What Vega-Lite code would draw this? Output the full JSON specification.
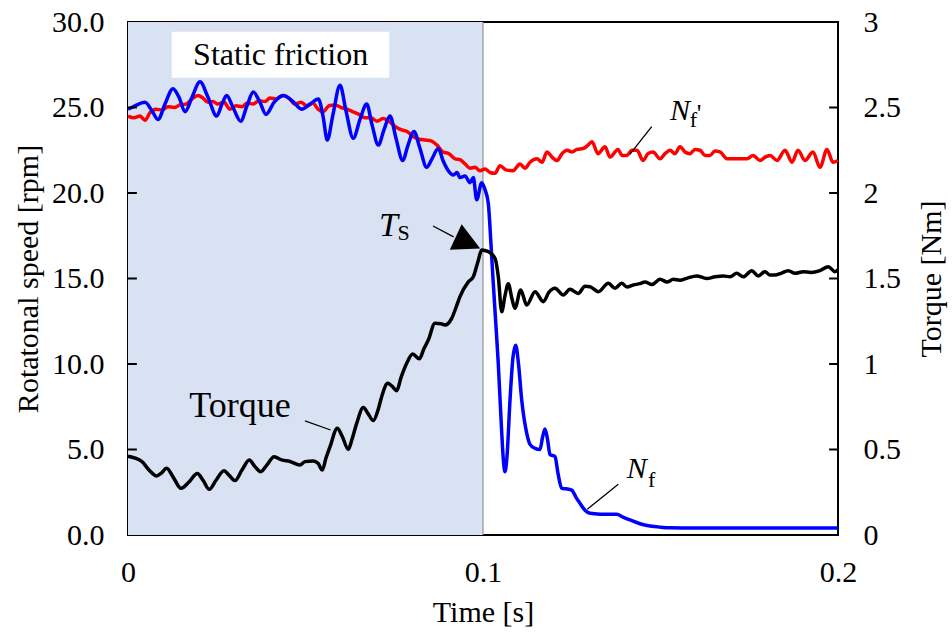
{
  "$schema": "https://vega.github.io/schema/vega-lite/v6.json",
  "width": 710,
  "height": 513,
  "autosize": {"type": "none"},
  "padding": {"left": 128, "top": 22, "right": 114, "bottom": 102},
  "background": "white",
  "config": {
    "view": {"stroke": "#000000", "strokeWidth": 2},
    "font": "Liberation Serif, Times New Roman, serif",
    "text": {"font": "Liberation Serif, Times New Roman, serif"},
    "axis": {
      "labelFont": "Liberation Serif, Times New Roman, serif",
      "titleFont": "Liberation Serif, Times New Roman, serif",
      "labelFontSize": 30,
      "titleFontSize": 30,
      "labelColor": "#000000",
      "titleColor": "#000000",
      "titleFontWeight": "normal",
      "grid": false,
      "domain": false,
      "ticks": false
    }
  },
  "resolve": {"scale": {"y": "independent"}},
  "layer": [
    {
      "layer": [
        {
          "data": {"values": [{"t0": 0, "t1": 0.1, "y0": 0, "y1": 30}]},
          "mark": {"type": "rect", "fill": "#d9e2f3"},
          "encoding": {
            "x": {"field": "t0", "type": "quantitative", "scale": {"domain": [0, 0.2], "nice": false, "zero": false}, "title": "Time [s]",
                  "axis": {"values": [0, 0.1, 0.2], "format": "~g", "labelFlush": false, "labelPadding": 22, "titlePadding": 10}},
            "x2": {"field": "t1"},
            "y": {"field": "y0", "type": "quantitative", "scale": {"domain": [0, 30], "nice": false}, "title": "Rotatonal speed [rpm]",
                  "axis": {"orient": "left", "values": [0, 5, 10, 15, 20, 25, 30], "format": ".1f", "labelPadding": 24, "titlePadding": 8}},
            "y2": {"field": "y1"}
          }
        },
        {
          "data": {"values": [{"t": 0.1, "y0": 0, "y1": 30}]},
          "mark": {"type": "rule", "color": "#808080", "strokeWidth": 1},
          "encoding": {
            "x": {"field": "t", "type": "quantitative", "title": "Time [s]",
                  "axis": {"values": [0, 0.1, 0.2], "format": "~g", "labelFlush": false, "labelPadding": 22, "titlePadding": 10}},
            "y": {"field": "y0", "type": "quantitative", "title": "Rotatonal speed [rpm]",
                  "axis": {"orient": "left", "values": [0, 5, 10, 15, 20, 25, 30], "format": ".1f", "labelPadding": 24, "titlePadding": 8}},
            "y2": {"field": "y1"}
          }
        },
        {
          "data": {"values": [{"t0": 0.0123, "t1": 0.0736, "y0": 26.74, "y1": 29.43}]},
          "mark": {"type": "rect", "fill": "#ffffff"},
          "encoding": {
            "x": {"field": "t0", "type": "quantitative", "title": "Time [s]",
                  "axis": {"values": [0, 0.1, 0.2], "format": "~g", "labelFlush": false, "labelPadding": 22, "titlePadding": 10}},
            "x2": {"field": "t1"},
            "y": {"field": "y0", "type": "quantitative", "title": "Rotatonal speed [rpm]",
                  "axis": {"orient": "left", "values": [0, 5, 10, 15, 20, 25, 30], "format": ".1f", "labelPadding": 24, "titlePadding": 8}},
            "y2": {"field": "y1"}
          }
        },
        {
          "data": {"values": [{"t": 0.0430, "v": 28.09, "label": "Static friction"}]},
          "mark": {"type": "text", "fontSize": 32, "align": "center", "baseline": "middle", "color": "#000000"},
          "encoding": {
            "x": {"field": "t", "type": "quantitative", "title": "Time [s]",
                  "axis": {"values": [0, 0.1, 0.2], "format": "~g", "labelFlush": false, "labelPadding": 22, "titlePadding": 10}},
            "y": {"field": "v", "type": "quantitative", "title": "Rotatonal speed [rpm]",
                  "axis": {"orient": "left", "values": [0, 5, 10, 15, 20, 25, 30], "format": ".1f", "labelPadding": 24, "titlePadding": 8}},
            "text": {"field": "label"}
          }
        },
        {
          "data": {"values": [
            {"t":0,"v":24.5},{"t":0.00169,"v":24.4},{"t":0.00338,"v":24.5},{"t":0.00479,"v":24.25},{"t":0.0062,"v":24.7},{"t":0.00789,"v":24.9},{"t":0.00958,"v":24.85},{"t":0.01127,"v":25.05},{"t":0.01296,"v":25.0},{"t":0.01465,"v":25.15},{"t":0.01634,"v":25.2},{"t":0.01803,"v":25.5},{"t":0.01972,"v":25.7},{"t":0.02113,"v":25.55},{"t":0.02254,"v":25.3},{"t":0.02394,"v":25.35},{"t":0.02535,"v":25.2},{"t":0.02704,"v":25.3},{"t":0.02873,"v":24.9},{"t":0.03042,"v":25.1},{"t":0.03211,"v":25.05},{"t":0.03352,"v":25.25},{"t":0.03521,"v":25.2},{"t":0.0369,"v":25.4},{"t":0.03859,"v":25.35},{"t":0.04,"v":25.55},{"t":0.04169,"v":25.5},{"t":0.04366,"v":25.7},{"t":0.04535,"v":25.55},{"t":0.04704,"v":25.2},{"t":0.04873,"v":25.3},{"t":0.05042,"v":25.1},{"t":0.05211,"v":25.25},{"t":0.05352,"v":24.9},{"t":0.05493,"v":24.75},{"t":0.05662,"v":25.1},{"t":0.05831,"v":25.15},{"t":0.06,"v":25.0},{"t":0.06169,"v":24.9},{"t":0.06338,"v":24.75},{"t":0.06507,"v":24.6},{"t":0.06676,"v":24.4},{"t":0.06845,"v":24.4},{"t":0.07014,"v":24.2},{"t":0.07183,"v":24.35},{"t":0.07352,"v":24.2},{"t":0.07521,"v":23.9},{"t":0.0769,"v":23.7},{"t":0.07859,"v":23.6},{"t":0.08028,"v":23.3},{"t":0.08197,"v":23.15},{"t":0.08366,"v":23.1},{"t":0.08535,"v":23.05},{"t":0.08704,"v":22.8},{"t":0.08873,"v":22.4},{"t":0.09042,"v":22.3},{"t":0.09211,"v":22.0},{"t":0.09352,"v":21.95},{"t":0.09493,"v":21.7},{"t":0.09634,"v":21.45},{"t":0.09775,"v":21.5},{"t":0.09915,"v":21.3},{"t":0.10056,"v":21.4},{"t":0.10197,"v":21.2},{"t":0.10338,"v":21.15},
            {"t":0.10479,"v":21.6},{"t":0.10648,"v":21.35},{"t":0.10845,"v":21.3},{"t":0.11042,"v":21.7},{"t":0.11183,"v":21.45},{"t":0.11324,"v":21.8},{"t":0.11521,"v":22.0},{"t":0.11662,"v":21.8},{"t":0.11803,"v":22.4},{"t":0.11944,"v":22.1},{"t":0.12085,"v":21.9},{"t":0.12225,"v":22.3},{"t":0.12366,"v":22.5},{"t":0.12507,"v":22.4},{"t":0.12648,"v":22.55},{"t":0.12817,"v":22.6},{"t":0.12958,"v":22.8},{"t":0.1307,"v":23.0},{"t":0.13239,"v":22.3},{"t":0.13437,"v":22.7},{"t":0.13577,"v":22.1},{"t":0.13803,"v":22.55},{"t":0.13915,"v":22.2},{"t":0.14056,"v":22.2},{"t":0.14197,"v":22.5},{"t":0.14338,"v":22.5},{"t":0.14507,"v":21.9},{"t":0.14648,"v":22.3},{"t":0.14789,"v":22.4},{"t":0.14986,"v":22.0},{"t":0.15127,"v":22.3},{"t":0.15268,"v":22.5},{"t":0.15408,"v":22.3},{"t":0.15549,"v":22.7},{"t":0.1569,"v":22.4},{"t":0.15831,"v":22.3},{"t":0.15972,"v":22.55},{"t":0.16113,"v":22.5},{"t":0.16254,"v":22.2},{"t":0.16394,"v":22.2},{"t":0.16535,"v":22.45},{"t":0.16676,"v":22.4},{"t":0.16873,"v":22.0},{"t":0.17155,"v":22.0},{"t":0.17437,"v":22.0},{"t":0.17606,"v":22.2},{"t":0.17803,"v":21.9},{"t":0.17944,"v":22.1},{"t":0.18085,"v":22.2},{"t":0.18282,"v":21.9},{"t":0.18507,"v":22.5},{"t":0.18704,"v":21.8},{"t":0.18873,"v":22.5},{"t":0.1907,"v":21.9},{"t":0.19296,"v":22.4},{"t":0.19493,"v":21.5},{"t":0.1969,"v":22.55},{"t":0.19859,"v":21.8},{"t":0.2,"v":21.9}
          ]},
          "mark": {"type": "line", "color": "#ff0000", "strokeWidth": 3.5, "interpolate": "monotone"},
          "encoding": {
            "x": {"field": "t", "type": "quantitative", "title": "Time [s]",
                  "axis": {"values": [0, 0.1, 0.2], "format": "~g", "labelFlush": false, "labelPadding": 22, "titlePadding": 10}},
            "y": {"field": "v", "type": "quantitative", "title": "Rotatonal speed [rpm]",
                  "axis": {"orient": "left", "values": [0, 5, 10, 15, 20, 25, 30], "format": ".1f", "labelPadding": 24, "titlePadding": 8}}
          }
        },
        {
          "data": {"values": [
            {"t":0,"v":24.9},{"t":0.00197,"v":25.1},{"t":0.00479,"v":25.3},{"t":0.00676,"v":24.8},{"t":0.00845,"v":24.3},{"t":0.01042,"v":25.2},{"t":0.01268,"v":26.1},{"t":0.01437,"v":25.6},{"t":0.01606,"v":24.75},{"t":0.01803,"v":25.6},{"t":0.02028,"v":26.5},{"t":0.02254,"v":25.6},{"t":0.02499,"v":24.5},{"t":0.02648,"v":25.2},{"t":0.0278,"v":25.7},{"t":0.02958,"v":25.0},{"t":0.03175,"v":24.2},{"t":0.03352,"v":25.1},{"t":0.0353,"v":25.9},{"t":0.03718,"v":25.3},{"t":0.03887,"v":24.6},{"t":0.04113,"v":25.3},{"t":0.04375,"v":25.7},{"t":0.0462,"v":25.4},{"t":0.04893,"v":24.9},{"t":0.05127,"v":25.2},{"t":0.05361,"v":25.5},{"t":0.05493,"v":24.5},{"t":0.05614,"v":23.1},{"t":0.05775,"v":24.6},{"t":0.05972,"v":26.3},{"t":0.06141,"v":24.8},{"t":0.06346,"v":23.2},{"t":0.06535,"v":24.3},{"t":0.06724,"v":25.2},{"t":0.06873,"v":24.0},{"t":0.07051,"v":22.8},{"t":0.07211,"v":23.7},{"t":0.0738,"v":24.5},{"t":0.07549,"v":23.2},{"t":0.07738,"v":21.9},{"t":0.07887,"v":22.8},{"t":0.08056,"v":23.6},{"t":0.08225,"v":22.6},{"t":0.08414,"v":21.5},{"t":0.08563,"v":22.0},{"t":0.08741,"v":22.6},{"t":0.08873,"v":21.9},{"t":0.09023,"v":21.3},{"t":0.09163,"v":21.05},{"t":0.09268,"v":21.2},{"t":0.09352,"v":20.9},{"t":0.09493,"v":21.0},{"t":0.09634,"v":20.6},{"t":0.09727,"v":20.9},{"t":0.09823,"v":19.6},{"t":0.09963,"v":20.6},{"t":0.10056,"v":20.2},{"t":0.10149,"v":19.4},{"t":0.10225,"v":17.0},{"t":0.1029,"v":14.7},{"t":0.10366,"v":12.2},{"t":0.10431,"v":10.0},{"t":0.10527,"v":6.0},{"t":0.10577,"v":4.3},{"t":0.1062,"v":3.7},{"t":0.10676,"v":4.6},{"t":0.10761,"v":7.9},{"t":0.10845,"v":10.4},{"t":0.10921,"v":11.1},{"t":0.11,"v":10.0},{"t":0.1109,"v":7.9},{"t":0.11231,"v":5.96},{"t":0.11324,"v":5.3},{"t":0.11465,"v":5.07},{"t":0.11606,"v":5.0},{"t":0.11676,"v":5.7},{"t":0.11746,"v":6.2},{"t":0.11817,"v":5.6},{"t":0.11887,"v":4.7},{"t":0.12028,"v":4.6},{"t":0.12113,"v":3.6},{"t":0.12217,"v":2.73},{"t":0.12338,"v":2.7},{"t":0.12499,"v":2.63},{"t":0.1262,"v":2.2},{"t":0.12732,"v":1.85},{"t":0.12873,"v":1.45},{"t":0.13014,"v":1.27},{"t":0.13296,"v":1.22},{"t":0.13766,"v":1.21},{"t":0.13944,"v":1.05},{"t":0.14141,"v":0.88},{"t":0.14423,"v":0.66},{"t":0.14704,"v":0.53},{"t":0.14986,"v":0.46},{"t":0.15268,"v":0.42},{"t":0.16113,"v":0.41},{"t":0.17803,"v":0.41},{"t":0.2,"v":0.41}
          ]},
          "mark": {"type": "line", "color": "#0000ff", "strokeWidth": 3.5, "interpolate": "monotone"},
          "encoding": {
            "x": {"field": "t", "type": "quantitative", "title": "Time [s]",
                  "axis": {"values": [0, 0.1, 0.2], "format": "~g", "labelFlush": false, "labelPadding": 22, "titlePadding": 10}},
            "y": {"field": "v", "type": "quantitative", "title": "Rotatonal speed [rpm]",
                  "axis": {"orient": "left", "values": [0, 5, 10, 15, 20, 25, 30], "format": ".1f", "labelPadding": 24, "titlePadding": 8}}
          }
        }
      ]
    },
    {
      "data": {"values": [
        {"t":0,"v":0.46},{"t":0.00386,"v":0.43},{"t":0.00592,"v":0.38},{"t":0.00808,"v":0.345},{"t":0.0093,"v":0.36},{"t":0.0109,"v":0.39},{"t":0.01268,"v":0.34},{"t":0.01493,"v":0.273},{"t":0.01718,"v":0.31},{"t":0.01952,"v":0.36},{"t":0.02113,"v":0.32},{"t":0.0229,"v":0.267},{"t":0.02479,"v":0.32},{"t":0.02704,"v":0.376},{"t":0.02845,"v":0.35},{"t":0.03014,"v":0.318},{"t":0.03211,"v":0.38},{"t":0.03417,"v":0.439},{"t":0.03577,"v":0.4},{"t":0.03738,"v":0.37},{"t":0.03915,"v":0.41},{"t":0.04113,"v":0.458},{"t":0.0433,"v":0.439},{"t":0.04563,"v":0.43},{"t":0.04845,"v":0.409},{"t":0.04986,"v":0.429},{"t":0.0522,"v":0.433},{"t":0.05352,"v":0.42},{"t":0.05473,"v":0.38},{"t":0.05577,"v":0.45},{"t":0.0569,"v":0.516},{"t":0.05896,"v":0.624},{"t":0.06028,"v":0.58},{"t":0.06206,"v":0.501},{"t":0.0631,"v":0.56},{"t":0.06442,"v":0.653},{"t":0.06628,"v":0.745},{"t":0.06761,"v":0.71},{"t":0.0691,"v":0.669},{"t":0.07042,"v":0.73},{"t":0.07146,"v":0.809},{"t":0.07315,"v":0.887},{"t":0.07437,"v":0.87},{"t":0.07569,"v":0.844},{"t":0.0769,"v":0.92},{"t":0.07851,"v":1.004},{"t":0.0802,"v":1.058},{"t":0.08206,"v":1.03},{"t":0.08338,"v":1.09},{"t":0.08459,"v":1.14},{"t":0.08648,"v":1.238},{"t":0.08817,"v":1.235},{"t":0.0893,"v":1.228},{"t":0.09118,"v":1.267},{"t":0.09239,"v":1.33},{"t":0.09352,"v":1.394},{"t":0.09586,"v":1.48},{"t":0.09727,"v":1.51},{"t":0.09859,"v":1.6},{"t":0.09963,"v":1.667},{"t":0.10149,"v":1.657},{"t":0.10338,"v":1.618},{"t":0.10431,"v":1.51},{"t":0.10527,"v":1.306},{"t":0.1062,"v":1.4},{"t":0.10713,"v":1.47},{"t":0.10817,"v":1.38},{"t":0.10901,"v":1.326},{"t":0.11062,"v":1.433},{"t":0.11231,"v":1.345},{"t":0.11465,"v":1.423},{"t":0.11699,"v":1.364},{"t":0.11859,"v":1.42},{"t":0.12028,"v":1.443},{"t":0.12262,"v":1.404},{"t":0.12451,"v":1.437},{"t":0.12685,"v":1.413},{"t":0.12873,"v":1.455},{"t":0.13014,"v":1.452},{"t":0.13248,"v":1.423},{"t":0.1353,"v":1.472},{"t":0.13718,"v":1.443},{"t":0.13907,"v":1.472},{"t":0.14056,"v":1.45},{"t":0.14234,"v":1.462},{"t":0.14423,"v":1.47},{"t":0.14563,"v":1.48},{"t":0.14761,"v":1.465},{"t":0.14986,"v":1.495},{"t":0.15183,"v":1.48},{"t":0.15361,"v":1.495},{"t":0.15549,"v":1.49},{"t":0.15737,"v":1.501},{"t":0.1602,"v":1.515},{"t":0.16301,"v":1.5},{"t":0.16535,"v":1.51},{"t":0.16769,"v":1.515},{"t":0.16958,"v":1.51},{"t":0.17146,"v":1.53},{"t":0.17332,"v":1.51},{"t":0.17569,"v":1.546},{"t":0.17755,"v":1.515},{"t":0.17944,"v":1.54},{"t":0.18085,"v":1.52},{"t":0.18225,"v":1.52},{"t":0.18394,"v":1.53},{"t":0.186,"v":1.546},{"t":0.18789,"v":1.53},{"t":0.19023,"v":1.54},{"t":0.19239,"v":1.535},{"t":0.19493,"v":1.546},{"t":0.19727,"v":1.569},{"t":0.19915,"v":1.54},{"t":0.2,"v":1.55}
      ]},
      "mark": {"type": "line", "color": "#000000", "strokeWidth": 3.5, "interpolate": "monotone"},
      "encoding": {
        "x": {"field": "t", "type": "quantitative", "title": "Time [s]",
              "axis": {"values": [0, 0.1, 0.2], "format": "~g", "labelFlush": false, "labelPadding": 22, "titlePadding": 10}},
        "y": {"field": "v", "type": "quantitative", "scale": {"domain": [0, 3], "nice": false}, "title": "Torque [Nm]",
              "axis": {"orient": "right", "values": [0, 0.5, 1, 1.5, 2, 2.5, 3], "format": "~g", "titleAngle": 270, "titleBaseline": "top", "labelPadding": 25, "titlePadding": 16}}
      }
    },
    {
      "layer": [
        {
          "data": {"values": [
            {"t": 0, "t2": 0.0025, "v": 5}, {"t": 0, "t2": 0.0025, "v": 10}, {"t": 0, "t2": 0.0025, "v": 15}, {"t": 0, "t2": 0.0025, "v": 20}, {"t": 0, "t2": 0.0025, "v": 25},
            {"t": 0.1975, "t2": 0.2, "v": 5}, {"t": 0.1975, "t2": 0.2, "v": 10}, {"t": 0.1975, "t2": 0.2, "v": 15}, {"t": 0.1975, "t2": 0.2, "v": 20}, {"t": 0.1975, "t2": 0.2, "v": 25}
          ]},
          "mark": {"type": "rule", "color": "#000000", "strokeWidth": 2},
          "encoding": {
            "x": {"field": "t", "type": "quantitative", "title": "Time [s]",
                  "axis": {"values": [0, 0.1, 0.2], "format": "~g", "labelFlush": false, "labelPadding": 22, "titlePadding": 10}},
            "x2": {"field": "t2"},
            "y": {"field": "v", "type": "quantitative", "scale": {"domain": [0, 30], "nice": false}, "axis": null}
          }
        },
        {
          "data": {"values": [
            {"t": 0.04986, "v": 6.68, "t2": 0.05707, "v2": 6.14},
            {"t": 0.14752, "v": 23.88, "t2": 0.14141, "v2": 22.27},
            {"t": 0.13811, "v": 2.965, "t2": 0.12938, "v2": 1.5},
            {"t": 0.08592, "v": 18.07, "t2": 0.09172, "v2": 17.43}
          ]},
          "mark": {"type": "rule", "color": "#000000", "strokeWidth": 1.3},
          "encoding": {
            "x": {"field": "t", "type": "quantitative", "title": "Time [s]",
                  "axis": {"values": [0, 0.1, 0.2], "format": "~g", "labelFlush": false, "labelPadding": 22, "titlePadding": 10}},
            "x2": {"field": "t2"},
            "y": {"field": "v", "type": "quantitative", "axis": null},
            "y2": {"field": "v2"}
          }
        },
        {
          "data": {"values": [{"t": 0.09538, "v": 17.13}]},
          "mark": {"type": "point", "shape": "M 1 0 L -0.8 -0.93 L -0.8 0.93 Z", "size": 900, "angle": 25, "filled": true, "color": "#000000", "opacity": 1},
          "encoding": {
            "x": {"field": "t", "type": "quantitative", "title": "Time [s]",
                  "axis": {"values": [0, 0.1, 0.2], "format": "~g", "labelFlush": false, "labelPadding": 22, "titlePadding": 10}},
            "y": {"field": "v", "type": "quantitative", "axis": null}
          }
        },
        {
          "data": {"values": [{"t": 0.03155, "v": 6.9, "label": "Torque"}]},
          "mark": {"type": "text", "fontSize": 36, "align": "center", "baseline": "alphabetic", "color": "#000000"},
          "encoding": {
            "x": {"field": "t", "type": "quantitative", "title": "Time [s]",
                  "axis": {"values": [0, 0.1, 0.2], "format": "~g", "labelFlush": false, "labelPadding": 22, "titlePadding": 10}},
            "y": {"field": "v", "type": "quantitative", "axis": null},
            "text": {"field": "label"}
          }
        },
        {
          "data": {"values": [{"t": 0.07338, "v": 17.49, "label": "T"}]},
          "mark": {"type": "text", "fontSize": 34, "fontStyle": "italic", "align": "center", "baseline": "alphabetic", "color": "#000000"},
          "encoding": {
            "x": {"field": "t", "type": "quantitative", "title": "Time [s]",
                  "axis": {"values": [0, 0.1, 0.2], "format": "~g", "labelFlush": false, "labelPadding": 22, "titlePadding": 10}},
            "y": {"field": "v", "type": "quantitative", "axis": null},
            "text": {"field": "label"}
          }
        },
        {
          "data": {"values": [
            {"t": 0.1433, "v": 3.33, "label": "N"},
            {"t": 0.15549, "v": 24.27, "label": "N"}
          ]},
          "mark": {"type": "text", "fontSize": 30, "fontStyle": "italic", "align": "center", "baseline": "alphabetic", "color": "#000000"},
          "encoding": {
            "x": {"field": "t", "type": "quantitative", "title": "Time [s]",
                  "axis": {"values": [0, 0.1, 0.2], "format": "~g", "labelFlush": false, "labelPadding": 22, "titlePadding": 10}},
            "y": {"field": "v", "type": "quantitative", "axis": null},
            "text": {"field": "label"}
          }
        },
        {
          "data": {"values": [
            {"t": 0.07761, "v": 17.26, "label": "S"},
            {"t": 0.14752, "v": 2.83, "label": "f"},
            {"t": 0.15924, "v": 23.88, "label": "f"}
          ]},
          "mark": {"type": "text", "fontSize": 22, "align": "center", "baseline": "alphabetic", "color": "#000000"},
          "encoding": {
            "x": {"field": "t", "type": "quantitative", "title": "Time [s]",
                  "axis": {"values": [0, 0.1, 0.2], "format": "~g", "labelFlush": false, "labelPadding": 22, "titlePadding": 10}},
            "y": {"field": "v", "type": "quantitative", "axis": null},
            "text": {"field": "label"}
          }
        },
        {
          "data": {"values": [{"t": 0.16085, "v": 25.38, "label": "'"}]},
          "mark": {"type": "text", "fontSize": 26, "align": "center", "baseline": "top", "color": "#000000"},
          "encoding": {
            "x": {"field": "t", "type": "quantitative", "title": "Time [s]",
                  "axis": {"values": [0, 0.1, 0.2], "format": "~g", "labelFlush": false, "labelPadding": 22, "titlePadding": 10}},
            "y": {"field": "v", "type": "quantitative", "axis": null},
            "text": {"field": "label"}
          }
        }
      ]
    }
  ]
}
